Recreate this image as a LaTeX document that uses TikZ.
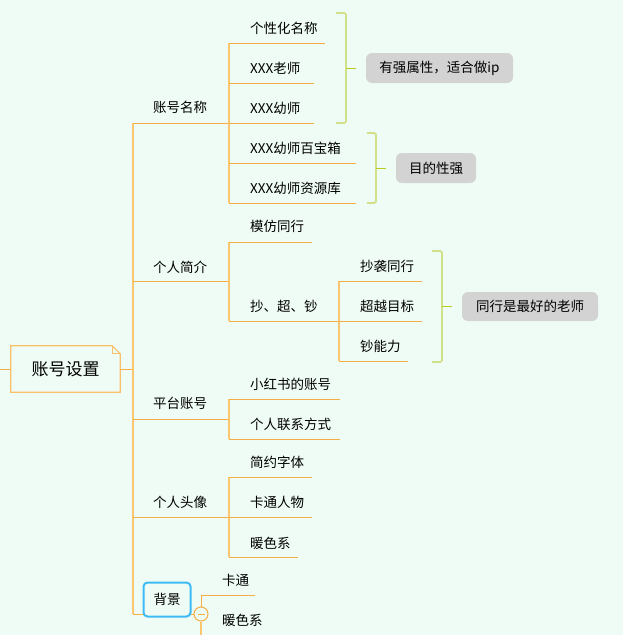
\documentclass[tikz,border=0pt]{standalone}
\usepackage{fontspec}
\setmainfont{Noto Sans CJK SC}
\definecolor{bg}{HTML}{EFFCF5}
\definecolor{ora}{HTML}{F5AD45}
\definecolor{oral}{HTML}{FAC770}
\definecolor{rootc}{HTML}{F9C06A}
\definecolor{grn}{HTML}{D3E08A}
\definecolor{grnd}{HTML}{B9CC1E}
\definecolor{lbl}{HTML}{D3D3D3}
\definecolor{blu}{HTML}{3DBBF5}
\begin{document}
\begin{tikzpicture}[x=1pt,y=-1pt,
  font=\fontsize{13.5}{15}\selectfont,
  txt/.style={anchor=west, inner sep=0pt},
  uline/.style={draw=ora, line width=1pt},
  vline/.style={draw=oral, line width=1.8pt},
  brk/.style={draw=grn, line width=1.6pt, rounded corners=1.5pt},
  tick/.style={draw=grnd, line width=1pt},
  lbox/.style={fill=lbl, rounded corners=6pt, inner sep=0pt}]
\fill[bg] (0,0) rectangle (623,635);
\useasboundingbox (0,0) rectangle (623,635);

% root
\node[minimum width=109pt, minimum height=46pt, inner sep=0pt, font=\fontsize{17}{19}\selectfont] (root) at (65.5,369) {账号设置};
\draw[uline] (0,369) -- (root.west);
\draw[draw=rootc, line width=1.2pt, fill=bg] (root.north west) -- ([xshift=-8pt]root.north east) -- ([yshift=-8pt]root.north east) -- (root.south east) -- (root.south west) -- cycle;
\draw[draw=rootc, line width=1pt] ([xshift=-8pt]root.north east) -- ([xshift=-8pt,yshift=-8pt]root.north east) -- ([yshift=-8pt]root.north east);
\node[inner sep=0pt, font=\fontsize{17}{19}\selectfont] at (root.center) {账号设置};

% trunk
\coordinate (tA) at (133,123);
\coordinate (tE) at (133,614);
\draw[uline] (root.east) -- (root.east -| tA);
\draw[vline] (tA) -- (tE);

% level 1
\node[txt] (n1) at (153,107) {账号名称};
\node[txt] (n2) at (153,267) {个人简介};
\node[txt] (n3) at (153,403) {平台账号};
\node[txt] (n4) at (153,502) {个人头像};
\coordinate (j1) at (229,123);
\coordinate (j2) at (229,281);
\coordinate (j3) at (229,419);
\coordinate (j4) at (229,517);
\draw[uline] (tA) -- (j1);
\draw[uline] (tA |- j2) -- (j2);
\draw[uline] (tA |- j3) -- (j3);
\draw[uline] (tA |- j4) -- (j4);

% 背景
\node[circle, draw=ora, line width=1pt, fill=bg, minimum size=14pt, inner sep=0pt] (col) at (201,614) {};
\draw[uline] (tE) -- (col.west);
\node[draw=blu, line width=2pt, rounded corners=4pt, fill=bg, minimum width=47pt, minimum height=34pt, inner sep=0pt] (n5) at (167,599.5) {背景};
\draw[draw=ora, line width=1pt] ([xshift=-3.5pt]col.center) -- ([xshift=3.5pt]col.center);
\coordinate (k1) at (255,595);
\draw[uline] (col.north) -- (col.north |- k1) -- (k1);
\draw[vline] (col.south) -- (201,635);
\node[txt] (m1) at (222,580) {卡通};
\node[txt] (m2) at (222,620) {暖色系};

% children of 账号名称
\draw[vline] (229,43) -- (229,203);
\node[txt] (a1) at (250,28) {个性化名称};
\node[txt] (a2) at (250,68) {XXX老师};
\node[txt] (a3) at (250,108) {XXX幼师};
\node[txt] (a4) at (250,148) {XXX幼师百宝箱};
\node[txt] (a5) at (250,188) {XXX幼师资源库};
\draw[uline] (229,43) -- (325,43);
\draw[uline] (229,83) -- (314,83);
\draw[uline] (j1) -- (314,123);
\draw[uline] (229,163) -- (356,163);
\draw[uline] (229,203) -- (356,203);

% summary 1
\draw[brk] (336,13) -- (346,13) -- (346,123) -- (336,123);
\coordinate (s1) at (346,68);
\node[lbox, minimum width=147pt, minimum height=30pt] (L1) at (439.5,68) {有强属性，适合做ip};
\draw[tick] (s1) -- ++(10,0);
\draw[brk] (367,133) -- (376,133) -- (376,203) -- (367,203);
\coordinate (s2) at (376,168);
\node[lbox, minimum width=80pt, minimum height=30pt] (L2) at (436,168) {目的性强};
\draw[tick] (s2) -- ++(10,0);

% children of 个人简介
\draw[vline] (229,242) -- (229,321);
\node[txt] (b1) at (250,226) {模仿同行};
\node[txt] (b2) at (250,306) {抄、超、钞};
\draw[uline] (229,242) -- (312,242);
\draw[uline] (229,321) -- (339,321);
\draw[vline] (339,281) -- (339,361);
\node[txt] (c1) at (360,266) {抄袭同行};
\node[txt] (c2) at (360,306) {超越目标};
\node[txt] (c3) at (360,346) {钞能力};
\draw[uline] (339,281) -- (422,281);
\draw[uline] (339,321) -- (422,321);
\draw[uline] (339,361) -- (408,361);
\draw[brk] (432,251) -- (442,251) -- (442,362) -- (432,362);
\coordinate (s3) at (442,306.5);
\node[lbox, minimum width=136pt, minimum height=29pt] (L3) at (530,306.5) {同行是最好的老师};
\draw[tick] (s3) -- ++(10,0);

% children of 平台账号
\draw[vline] (229,399) -- (229,439);
\node[txt] (d1) at (250,384) {小红书的账号};
\node[txt] (d2) at (250,424) {个人联系方式};
\draw[uline] (229,399) -- (340,399);
\draw[uline] (229,439) -- (340,439);

% children of 个人头像
\draw[vline] (229,477) -- (229,557);
\node[txt] (e1) at (250,462) {简约字体};
\node[txt] (e2) at (250,502) {卡通人物};
\node[txt] (e3) at (250,543) {暖色系};
\draw[uline] (229,477) -- (312,477);
\draw[uline] (j4) -- (312,517);
\draw[uline] (229,557) -- (298,557);
\end{tikzpicture}
\end{document}
